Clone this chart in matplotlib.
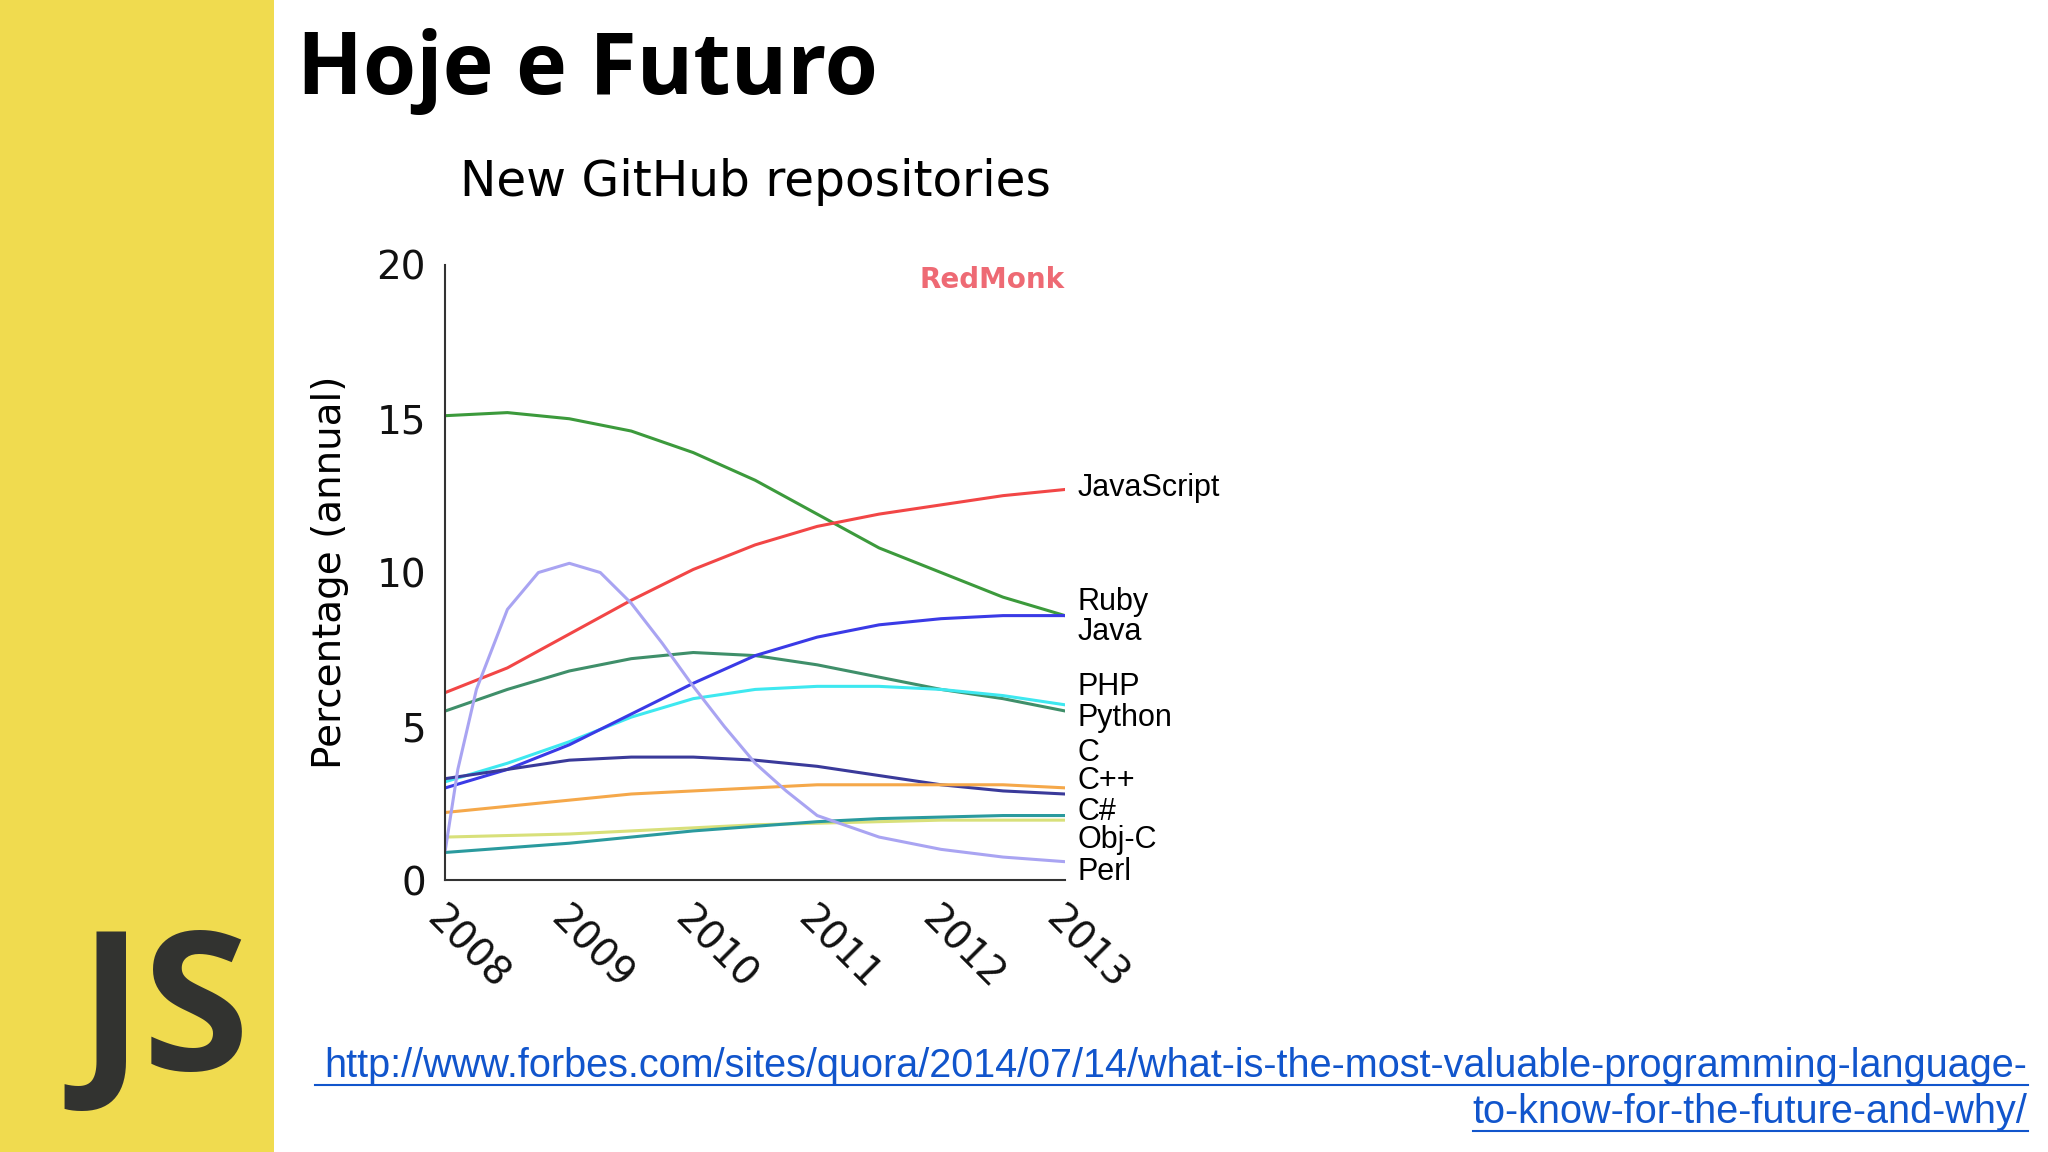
import numpy as np
import matplotlib
matplotlib.use("Agg")
import matplotlib.pyplot as plt
from matplotlib.patches import Rectangle

# values read at half-year steps (Perl at quarter steps)
years = [2008, 2008.5, 2009, 2009.5, 2010, 2010.5, 2011, 2011.5, 2012, 2012.5, 2013]
ruby = [15.1, 15.2, 15.0, 14.6, 13.9, 13.0, 11.9, 10.8, 10.0, 9.2, 8.6]
javascript = [6.1, 6.9, 8.0, 9.1, 10.1, 10.9, 11.5, 11.9, 12.2, 12.5, 12.7]
java = [3.0, 3.6, 4.4, 5.4, 6.4, 7.3, 7.9, 8.3, 8.5, 8.6, 8.6]
php = [3.2, 3.8, 4.5, 5.3, 5.9, 6.2, 6.3, 6.3, 6.2, 6.0, 5.7]
python = [5.5, 6.2, 6.8, 7.2, 7.4, 7.3, 7.0, 6.6, 6.2, 5.9, 5.5]
c_lang = [3.3, 3.6, 3.9, 4.0, 4.0, 3.9, 3.7, 3.4, 3.1, 2.9, 2.8]
cpp = [2.2, 2.4, 2.6, 2.8, 2.9, 3.0, 3.1, 3.1, 3.1, 3.1, 3.0]
csharp = [0.9, 1.05, 1.2, 1.4, 1.6, 1.75, 1.9, 2.0, 2.05, 2.1, 2.1]
objc = [1.4, 1.45, 1.5, 1.6, 1.7, 1.8, 1.85, 1.9, 1.95, 1.95, 1.95]
perl_years = [2008, 2008.1, 2008.25, 2008.5, 2008.75, 2009, 2009.25, 2009.5, 2009.75,
              2010, 2010.25, 2010.5, 2010.75, 2011, 2011.5, 2012, 2012.5, 2013]
perl = [1.0, 3.6, 6.2, 8.8, 10.0, 10.3, 10.0, 9.0, 7.7, 6.3, 5.0, 3.8, 2.9, 2.1, 1.4, 1.0, 0.75, 0.6]

series = [
    ("Ruby", years, ruby, "#3c9a3c"),
    ("JavaScript", years, javascript, "#f24646"),
    ("Python", years, python, "#3f8f6a"),
    ("PHP", years, php, "#3ee8f0"),
    ("Java", years, java, "#3a3ae6"),
    ("C", years, c_lang, "#3a3a9a"),
    ("C++", years, cpp, "#f5a84a"),
    ("Obj-C", years, objc, "#d8e07a"),
    ("C#", years, csharp, "#2a9a9e"),
    ("Perl", perl_years, perl, "#a9a4f2"),
]
labels = ["JavaScript", "Ruby", "Java", "PHP", "Python", "C", "C++", "C#", "Obj-C", "Perl"]
label_y = [12.74, 9.04, 8.07, 6.28, 5.27, 4.12, 3.23, 2.21, 1.32, 0.25]
xticks = [2008, 2009, 2010, 2011, 2012, 2013]

fig = plt.figure(figsize=(20.48, 11.52), dpi=100)
fig.patches.append(Rectangle((0, 0), 0.134, 1, transform=fig.transFigure,
                             facecolor="#f0db4f", edgecolor="none", zorder=0))
fig.text(0.08, 0.03, "JS", fontsize=140, fontweight="bold", color="#323330",
         ha="center", va="bottom", family="Open Sans")
fig.text(0.145, 0.938, "Hoje e Futuro", fontsize=62, fontweight="bold", color="black",
         ha="left", va="center", family="Open Sans")

ax = fig.add_axes([0.2175, 0.236, 0.3025, 0.534])
for name, xs, ys, col in series:
    ax.plot(xs, ys, color=col, lw=2.2)
ax.set_xlim(2008, 2013)
ax.set_ylim(0, 20)
ax.set_yticks([0, 5, 10, 15, 20])
ax.set_xticks(xticks)
ax.set_xticklabels([str(x) for x in xticks], rotation=-45, ha="left", va="top",
                   rotation_mode="anchor")
ax.tick_params(length=0, labelsize=28, pad=14, colors="#111111")
for s in ["top", "right"]:
    ax.spines[s].set_visible(False)
for s in ["left", "bottom"]:
    ax.spines[s].set_color("#333333")
    ax.spines[s].set_linewidth(1.5)
ax.set_ylabel("Percentage (annual)", fontsize=28, labelpad=20)
ax.set_title("New GitHub repositories", fontsize=35, pad=50)
for lab, yv in zip(labels, label_y):
    ax.text(2013.1, yv, lab, fontsize=22, ha="left", va="center", clip_on=False,
            family="Liberation Sans")
ax.text(2013, 19.5, "RedMonk", fontsize=20, fontweight="bold", color="#ee6a74",
        ha="right", va="center")

url_color = "#1155cc"
fig.text(0.99, 0.075, "http://www.forbes.com/sites/quora/2014/07/14/what-is-the-most-valuable-programming-language-",
         fontsize=28.5, color=url_color, ha="right", va="center", family="Liberation Sans")
fig.text(0.99, 0.035, "to-know-for-the-future-and-why/",
         fontsize=28.5, color=url_color, ha="right", va="center", family="Liberation Sans")
fig.add_artist(plt.Line2D([0.154, 0.99], [0.058, 0.058], color=url_color, lw=1.5))
fig.add_artist(plt.Line2D([0.719, 0.99], [0.018, 0.018], color=url_color, lw=1.5))

fig.savefig("out.png", dpi=100, facecolor="white")
